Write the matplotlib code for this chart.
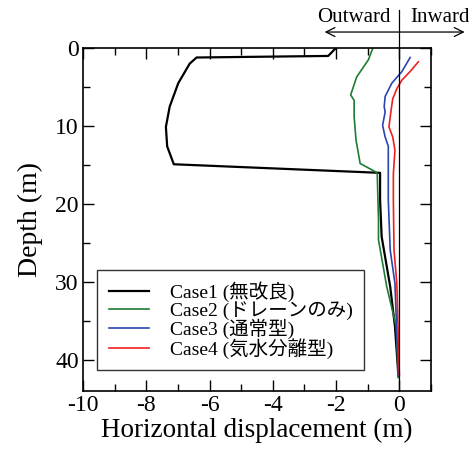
import matplotlib
matplotlib.use('Agg')
import matplotlib.pyplot as plt
from matplotlib.ticker import MultipleLocator

plt.rcParams['font.family'] = ['Liberation Serif', 'Noto Sans CJK JP']
plt.rcParams['axes.unicode_minus'] = False

# depth (m) and horizontal displacement (m)
depth1 = [0, 1.0, 1.2, 2.0, 4.5, 7.5, 10.1, 12.6, 14.9, 16.0, 19.5, 24.2, 30.6, 35.7, 42.1]
disp1 = [-2.01, -2.25, -6.41, -6.63, -6.99, -7.26, -7.38, -7.34, -7.13, -0.61, -0.61, -0.56, -0.29, -0.14, -0.03]

depth2 = [0, 1.5, 3.7, 6.0, 6.7, 8.8, 11.8, 14.8, 15.9, 16.1, 22.0, 24.6, 30.6, 35.7, 42.3]
disp2 = [-0.84, -0.98, -1.35, -1.54, -1.43, -1.43, -1.37, -1.24, -0.74, -0.70, -0.66, -0.66, -0.40, -0.10, -0.03]

depth3 = [1.2, 3.0, 4.5, 6.2, 7.5, 8.2, 9.9, 11.4, 12.6, 16.1, 19.5, 25.9, 30.2, 42.0]
disp3 = [0.34, 0.08, -0.24, -0.45, -0.48, -0.45, -0.53, -0.45, -0.35, -0.35, -0.35, -0.29, -0.14, -0.03]

depth4 = [1.75, 3.0, 4.1, 5.2, 6.5, 7.9, 10.1, 11.4, 13.1, 16.1, 19.5, 25.9, 30.2, 42.0]
disp4 = [0.60, 0.34, 0.08, -0.08, -0.21, -0.26, -0.33, -0.21, -0.14, -0.19, -0.19, -0.17, -0.08, 0.0]

labels = ['Case1 (無改良)', 'Case2 (ドレーンのみ)', 'Case3 (通常型)', 'Case4 (気水分離型)']

fig = plt.figure(figsize=(4.69, 4.5), dpi=100)
ax = fig.add_axes([0.177, 0.131, 0.742, 0.762])

ax.plot(disp1, depth1, color='black', linewidth=1.6, label=labels[0])
ax.plot(disp2, depth2, color='#1e7d32', linewidth=1.2, label=labels[1])
ax.plot(disp3, depth3, color='#2b44b0', linewidth=1.2, label=labels[2])
ax.plot(disp4, depth4, color='#f02020', linewidth=1.2, label=labels[3])

# zero line, running up past the frame to the Outward/Inward arrow
trans = ax.get_xaxis_transform()
ax.plot([0, 0], [0, 1.11], color='black', linewidth=0.9, transform=trans, clip_on=False)
ax.annotate('', xy=(-2.45, 1.047), xytext=(2.15, 1.047), xycoords=trans, textcoords=trans,
            arrowprops=dict(arrowstyle='<->', color='black', lw=0.9, mutation_scale=16))
ax.text(-1.43, 1.09, 'Outward', transform=trans, ha='center', va='center', fontsize=15)
ax.text(1.28, 1.09, 'Inward', transform=trans, ha='center', va='center', fontsize=15)

ax.set_xlim(-10, 1)
ax.set_ylim(44, 0)
ax.xaxis.set_major_locator(MultipleLocator(2))
ax.xaxis.set_minor_locator(MultipleLocator(1))
ax.yaxis.set_major_locator(MultipleLocator(10))
ax.yaxis.set_minor_locator(MultipleLocator(5))
ax.tick_params(which='both', direction='in', top=True, right=True, labelsize=17, width=1)
ax.tick_params(which='major', length=8, pad=3)
ax.tick_params(which='minor', length=5)
for s in ax.spines.values():
    s.set_linewidth(1.2)

ax.set_xlabel('Horizontal displacement (m)', fontsize=19.5, labelpad=1)
ax.set_ylabel('Depth (m)', fontsize=20, labelpad=9)

leg = ax.legend(loc='lower left', bbox_to_anchor=(0.04, 0.06), fontsize=14, frameon=True,
                fancybox=False, edgecolor='black', handlelength=2.1, handletextpad=1.05,
                labelspacing=-0.05, borderpad=0.6, borderaxespad=0)
leg.get_frame().set_linewidth(1.0)

fig.savefig('out.png', dpi=100)
